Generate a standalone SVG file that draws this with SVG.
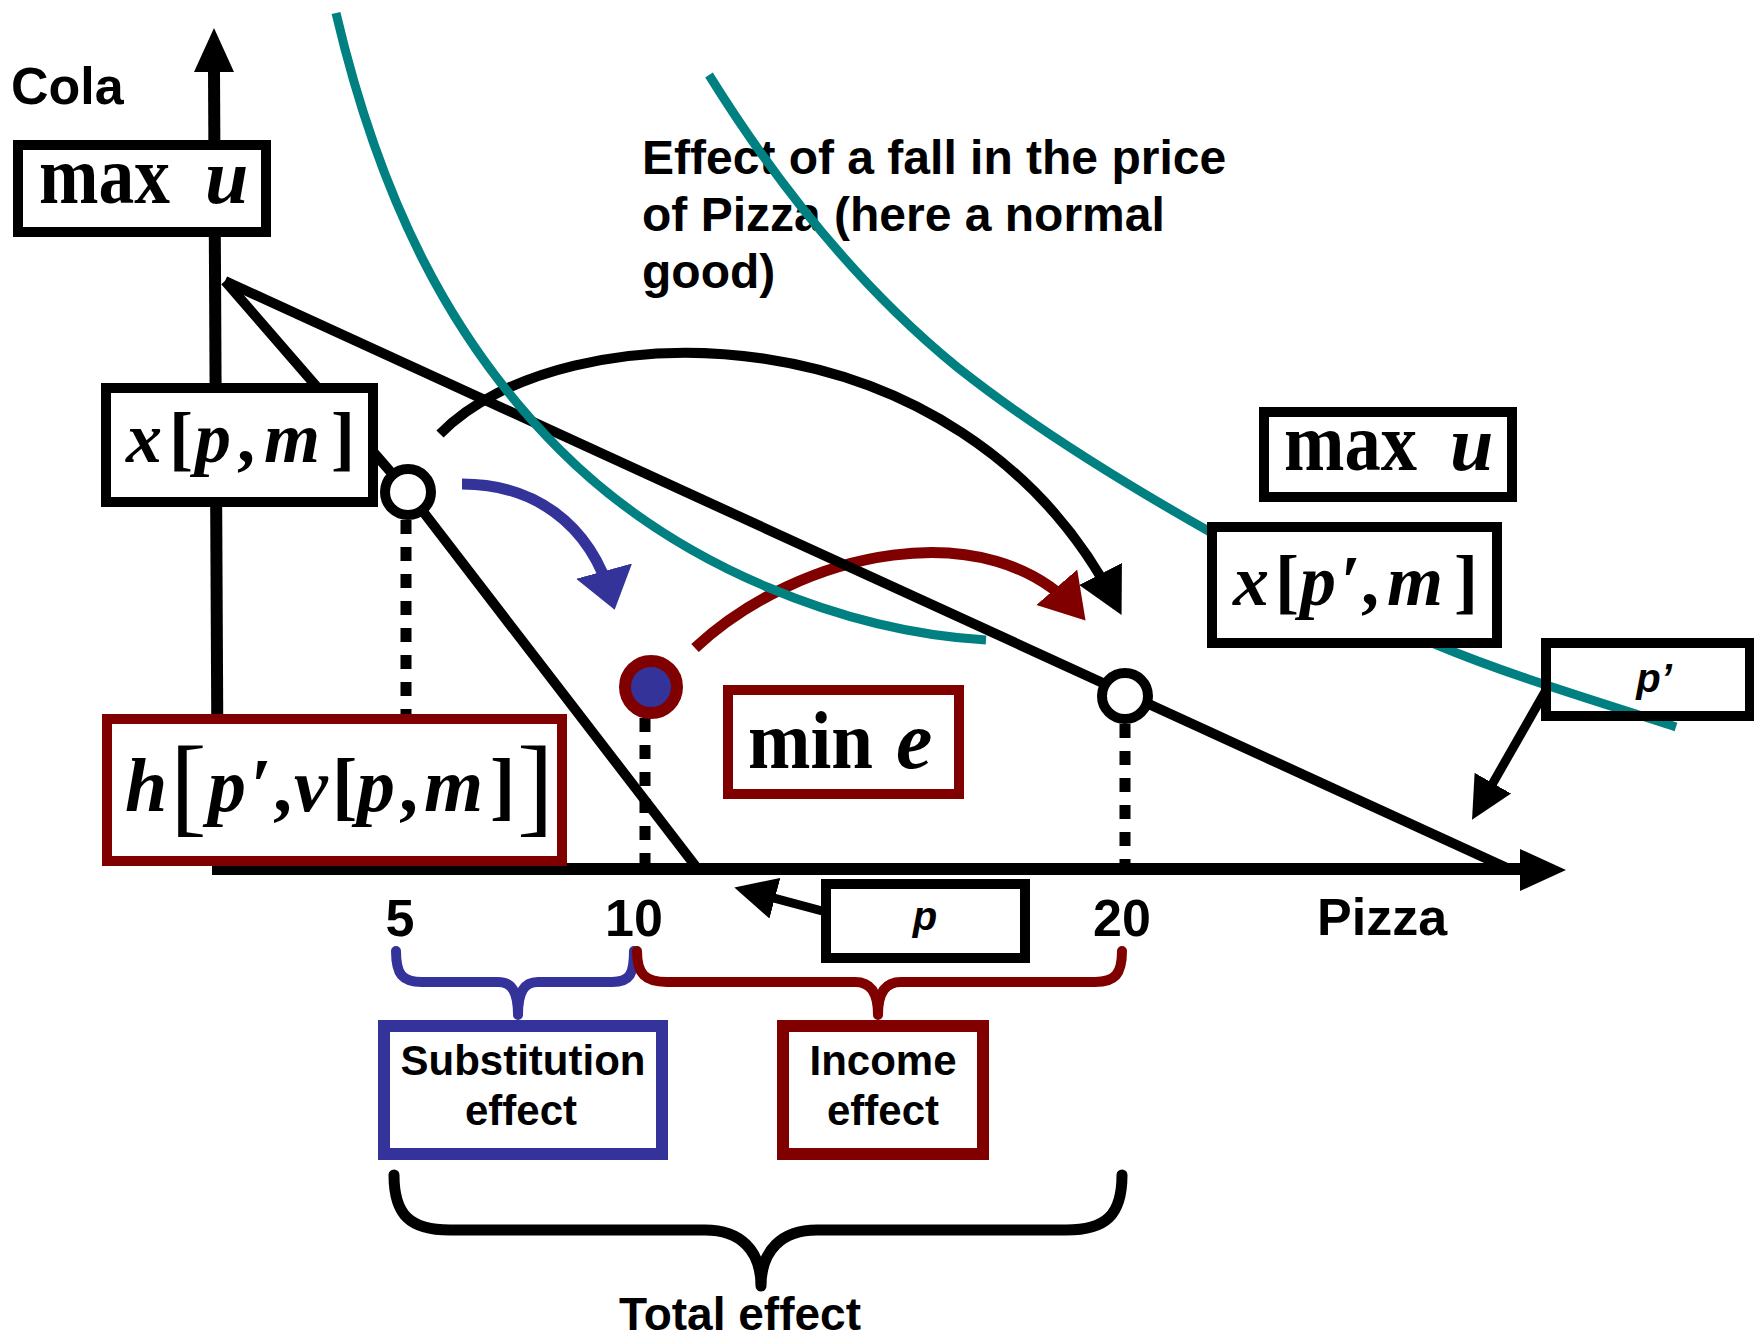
<svg xmlns="http://www.w3.org/2000/svg" width="1754" height="1339" viewBox="0 0 1754 1339">
<style>
.ax{stroke:#000;stroke-width:12;fill:none}
.ln{stroke:#000;stroke-width:10;fill:none}
.teal{stroke:#008080;stroke-width:9;fill:none}
.dot{stroke:#000;stroke-width:11;stroke-dasharray:14 13;fill:none}
.box{fill:#fff;stroke:#000;stroke-width:10}
.obox{fill:none;stroke:#000;stroke-width:10}
.rbox{fill:#fff;stroke:#800000;stroke-width:10}
.rbox2{fill:#fff;stroke:#800000;stroke-width:12}
.bbox{fill:#fff;stroke:#333399;stroke-width:12}
.sans{font-family:"Liberation Sans",Arial,sans-serif;font-weight:bold;fill:#000}
.math{font-family:"Liberation Serif","Times New Roman",serif;font-weight:bold;fill:#000}
.it{font-style:italic}
.brace{fill:none;stroke-linecap:round;stroke-linejoin:round}
</style>
<defs>
<marker id="ahK" markerUnits="userSpaceOnUse" viewBox="0 -26 46 52" refX="36" refY="0" markerWidth="46" markerHeight="52" orient="auto"><path d="M0,-24 L46,0 L0,24 Z" fill="#000"/></marker>
<marker id="ahR" markerUnits="userSpaceOnUse" viewBox="0 -28 44 56" refX="34" refY="0" markerWidth="44" markerHeight="56" orient="auto"><path d="M0,-27 L44,0 L0,27 Z" fill="#800000"/></marker>
<marker id="ahB" markerUnits="userSpaceOnUse" viewBox="0 -30 40 60" refX="30" refY="0" markerWidth="40" markerHeight="60" orient="auto"><path d="M0,-29 L40,0 L0,29 Z" fill="#333399"/></marker>
<marker id="ahS" markerUnits="userSpaceOnUse" viewBox="0 -22 42 44" refX="32" refY="0" markerWidth="42" markerHeight="44" orient="auto"><path d="M0,-21 L42,0 L0,21 Z" fill="#000"/></marker>
</defs>

<g id="title">
<text class="sans" font-size="48" x="642" y="174">Effect of a fall in the price</text>
<text class="sans" font-size="48" x="642" y="231">of Pizza (here a normal</text>
<text class="sans" font-size="48" x="642" y="288">good)</text>
</g>

<g id="connectors">
<path class="ln" style="stroke:#800000;stroke-width:11" d="M695,648 C800,550 990,510 1079,613" marker-end="url(#ahR)"/>
<path class="ln" style="stroke:#333399;stroke-width:11" d="M462,484 C530,484 590,520 612,600" marker-end="url(#ahB)"/>
<line class="ax" x1="218" y1="869" x2="214" y2="70"/>
<polygon points="214,28 194,72 234,72" fill="#000"/>
<line class="ax" x1="212" y1="869" x2="1524" y2="869"/>
<polygon points="1566,870 1520,849 1520,891" fill="#000"/>
<polyline class="ln" points="225,281 408,492 697,868"/>
<line class="ln" x1="225" y1="281" x2="1507" y2="868"/>
<line class="dot" x1="406" y1="520" x2="406" y2="866"/>
<line class="dot" x1="645" y1="718" x2="645" y2="866"/>
<line class="dot" x1="1125" y1="724" x2="1125" y2="866"/>
<path class="ln" d="M440,434 C560,310 960,300 1117,606" marker-end="url(#ahK)"/>
<path class="teal" d="M336,13 C380,200 450,340 560,450 C680,570 850,632 986,640"/>
<path class="teal" d="M709,75 C775,181 859,287 957,367 C1040,433 1134,489 1212,533 C1290,577 1363,614 1437,645 C1511,676 1600,702 1676,727"/>
<line class="ln" style="stroke-width:9" x1="1546" y1="690" x2="1477" y2="811" marker-end="url(#ahS)"/>
<line class="ln" style="stroke-width:9" x1="826" y1="912" x2="744" y2="890" marker-end="url(#ahS)"/>
</g>

<g id="braces">
<path class="brace" stroke="#333399" stroke-width="10" d="M396,951 C396,974 402,982 422,982 L498,982 C512,982 518,992 518,1015 C518,992 524,982 538,982 L612,982 C630,982 634,974 634,951"/>
<path class="brace" stroke="#800000" stroke-width="10" d="M637,951 C637,974 645,982 667,982 L855,982 C870,982 878,992 878,1015 C878,992 886,982 901,982 L1095,982 C1115,982 1122,974 1122,951"/>
<path class="brace" stroke="#000" stroke-width="11" d="M394,1175 C394,1215 410,1230 450,1230 L705,1230 C740,1230 761,1250 761,1286 C761,1250 782,1230 817,1230 L1066,1230 C1106,1230 1122,1215 1122,1175"/>
</g>

<g id="cola"><text class="sans" font-size="52" x="11" y="104">Cola</text></g>
<g id="pizza"><text class="sans" font-size="52" x="1317" y="935">Pizza</text></g>
<g id="ticks">
<text class="sans" font-size="52" x="400" y="936" text-anchor="middle">5</text>
<text class="sans" font-size="52" x="634" y="936" text-anchor="middle">10</text>
<text class="sans" font-size="52" x="1122" y="936" text-anchor="middle">20</text>
</g>

<g id="maxu1">
<rect class="box" x="18" y="145" width="248" height="87"/>
<text class="math" font-size="82" x="39" y="203" textLength="131" lengthAdjust="spacingAndGlyphs">max</text>
<text class="math it" font-size="78" x="205" y="203">u</text>
</g>

<g id="xpm">
<rect class="box" x="106" y="388" width="267" height="114"/>
<text class="math" font-size="72" y="462"><tspan class="it" x="126">x</tspan><tspan x="169">[</tspan><tspan class="it" x="195">p</tspan><tspan x="237">,</tspan><tspan class="it" x="264">m</tspan><tspan x="331">]</tspan></text>
</g>

<g id="hbox">
<rect class="rbox" x="107" y="719" width="455" height="142"/>
<text class="math" font-size="76" y="811"><tspan class="it" x="125">h</tspan><tspan x="170" y="822" font-size="110" font-weight="normal">[</tspan><tspan class="it" x="208" y="811">p</tspan><tspan x="251">′</tspan><tspan x="273">,</tspan><tspan class="it" x="294">v</tspan><tspan x="332">[</tspan><tspan class="it" x="357">p</tspan><tspan x="399">,</tspan><tspan class="it" x="424">m</tspan><tspan x="490">]</tspan><tspan x="517" y="822" font-size="110" font-weight="normal">]</tspan></text>
</g>

<g id="mine">
<rect class="rbox" x="728" y="690" width="231" height="104"/>
<text class="math" font-size="82" x="748" y="768" textLength="125" lengthAdjust="spacingAndGlyphs">min</text>
<text class="math it" font-size="82" x="896" y="768">e</text>
</g>

<g id="maxu2">
<rect class="box" x="1264" y="412" width="248" height="85"/>
<text class="math" font-size="82" x="1284" y="470" textLength="133" lengthAdjust="spacingAndGlyphs">max</text>
<text class="math it" font-size="78" x="1450" y="470">u</text>
</g>

<g id="xp2m">
<rect class="box" x="1212" y="527" width="285" height="116"/>
<text class="math" font-size="72" y="605"><tspan class="it" x="1233">x</tspan><tspan x="1275">[</tspan><tspan class="it" x="1300">p</tspan><tspan x="1341">′</tspan><tspan x="1361">,</tspan><tspan class="it" x="1387">m</tspan><tspan x="1454">]</tspan></text>
</g>

<g id="pprime">
<rect class="obox" x="1546" y="643" width="204" height="73"/>
<text class="sans it" font-size="40" x="1654" y="692" text-anchor="middle">p’</text>
</g>

<g id="pbox">
<rect class="box" x="826" y="884" width="199" height="74"/>
<text class="sans it" font-size="40" x="925" y="930" text-anchor="middle">p</text>
</g>

<g id="pt1"><circle cx="408" cy="492" r="23" fill="#fff" stroke="#000" stroke-width="10"/></g>
<g id="pt2"><circle cx="1125" cy="696" r="23" fill="#fff" stroke="#000" stroke-width="10"/></g>
<g id="pt3"><circle cx="651" cy="687" r="26" fill="#333399" stroke="#800000" stroke-width="12"/></g>

<g id="subst">
<rect class="bbox" x="384" y="1026" width="278" height="128"/>
<text class="sans" font-size="42" x="523" y="1075" text-anchor="middle">Substitution</text>
<text class="sans" font-size="42" x="521" y="1125" text-anchor="middle">effect</text>
</g>

<g id="income">
<rect class="rbox2" x="783" y="1026" width="200" height="128"/>
<text class="sans" font-size="42" x="883" y="1075" text-anchor="middle">Income</text>
<text class="sans" font-size="42" x="883" y="1125" text-anchor="middle">effect</text>
</g>

<g id="total"><text class="sans" font-size="46" x="740" y="1330" text-anchor="middle">Total effect</text></g>
</svg>
